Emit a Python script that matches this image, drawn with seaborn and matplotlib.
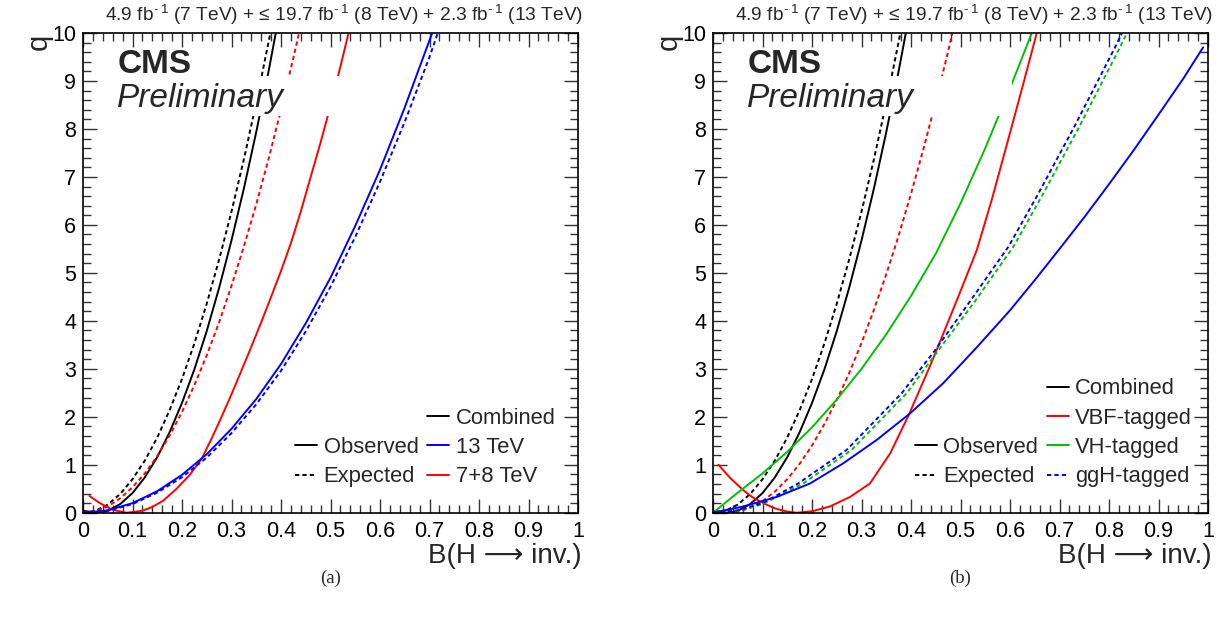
import matplotlib
matplotlib.use("Agg")
import matplotlib.pyplot as plt
import seaborn as sns
from matplotlib.lines import Line2D
from matplotlib.patches import Rectangle
from matplotlib.ticker import MultipleLocator

# ---------------- data ----------------
# Combined (both panels)
comb_obs_B = [0.0, 0.03, 0.05, 0.075, 0.1, 0.125, 0.15, 0.175, 0.2, 0.225, 0.25, 0.275, 0.3, 0.325, 0.35, 0.375, 0.4]
comb_obs_q = [0.04, 0.0, 0.04, 0.18, 0.41, 0.74, 1.16, 1.68, 2.29, 2.99, 3.79, 4.69, 5.68, 6.76, 7.94, 9.21, 10.58]
comb_exp_B = [0.0, 0.025, 0.05, 0.075, 0.1, 0.125, 0.15, 0.175, 0.2, 0.225, 0.25, 0.275, 0.3, 0.325, 0.35, 0.375, 0.39]
comb_exp_q = [0.0, 0.04, 0.17, 0.39, 0.70, 1.09, 1.57, 2.14, 2.79, 3.53, 4.36, 5.28, 6.28, 7.37, 8.55, 9.82, 10.62]

# Panel (a): 13 TeV and 7+8 TeV
tev13_obs_B = [0.0, 0.05, 0.1, 0.15, 0.2, 0.25, 0.3, 0.35, 0.4, 0.45, 0.5, 0.55, 0.6, 0.65, 0.7, 0.72]
tev13_obs_q = [0.0, 0.05, 0.2, 0.45, 0.79, 1.22, 1.75, 2.37, 3.1, 3.95, 4.9, 5.98, 7.15, 8.45, 9.85, 10.4]
tev13_exp_B = [0.0, 0.05, 0.1, 0.15, 0.2, 0.25, 0.3, 0.35, 0.4, 0.45, 0.5, 0.55, 0.6, 0.65, 0.7, 0.73]
tev13_exp_q = [0.0, 0.04, 0.18, 0.42, 0.74, 1.15, 1.66, 2.26, 2.96, 3.78, 4.71, 5.75, 6.9, 8.15, 9.5, 10.4]
tev78_obs_B = [0.013, 0.034, 0.06, 0.088, 0.12, 0.14, 0.162, 0.189, 0.215, 0.24, 0.26, 0.28, 0.30, 0.32, 0.34,
               0.36, 0.38, 0.40, 0.42, 0.44, 0.46, 0.48, 0.50, 0.52, 0.54]
tev78_obs_q = [0.35, 0.20, 0.06, 0.0, 0.04, 0.12, 0.25, 0.50, 0.78, 1.13, 1.55, 2.0, 2.47, 2.96, 3.46,
               3.97, 4.5, 5.04, 5.62, 6.28, 7.0, 7.72, 8.48, 9.3, 10.15]
tev78_exp_B = [0.0, 0.025, 0.05, 0.075, 0.1, 0.125, 0.15, 0.175, 0.2, 0.225, 0.25, 0.275, 0.3, 0.325, 0.35,
               0.375, 0.4, 0.425, 0.44]
tev78_exp_q = [0.0, 0.03, 0.13, 0.30, 0.53, 0.82, 1.18, 1.61, 2.10, 2.66, 3.28, 3.97, 4.73, 5.55, 6.43,
               7.38, 8.40, 9.48, 10.16]

# Panel (b): tagged categories
vbf_obs_B = [0.011, 0.035, 0.061, 0.08, 0.102, 0.12, 0.135, 0.152, 0.169, 0.2, 0.236, 0.277, 0.317, 0.358,
             0.395, 0.438, 0.469, 0.5, 0.533, 0.563, 0.6, 0.627, 0.654, 0.66]
vbf_obs_q = [1.0, 0.72, 0.47, 0.32, 0.2, 0.11, 0.06, 0.02, 0.0, 0.03, 0.13, 0.33, 0.61, 1.24,
             2.03, 3.05, 3.83, 4.62, 5.48, 6.52, 7.92, 8.95, 10.0, 10.25]
vbf_exp_B = [0.0, 0.03, 0.05, 0.075, 0.1, 0.125, 0.15, 0.175, 0.2, 0.225, 0.25, 0.275, 0.3, 0.325, 0.35,
             0.375, 0.4, 0.425, 0.45, 0.475, 0.49]
vbf_exp_q = [0.0, 0.0, 0.02, 0.1, 0.24, 0.44, 0.70, 1.02, 1.40, 1.85, 2.35, 2.91, 3.54, 4.23, 4.97,
             5.78, 6.65, 7.58, 8.57, 9.62, 10.3]
vh_obs_B = [0.0, 0.05, 0.1, 0.15, 0.2, 0.25, 0.3, 0.35, 0.4, 0.45, 0.5, 0.55, 0.6, 0.644, 0.65]
vh_obs_q = [0.0, 0.42, 0.82, 1.27, 1.78, 2.36, 3.0, 3.72, 4.52, 5.4, 6.45, 7.6, 8.85, 10.0, 10.15]
vh_exp_B = [0.0, 0.05, 0.1, 0.182, 0.28, 0.391, 0.455, 0.53, 0.607, 0.667, 0.74, 0.822, 0.85]
vh_exp_q = [0.0, 0.04, 0.18, 0.61, 1.31, 2.49, 3.38, 4.42, 5.55, 6.65, 8.05, 9.7, 10.3]
ggh_obs_B = [0.0, 0.061, 0.129, 0.196, 0.263, 0.331, 0.398, 0.465, 0.533, 0.6, 0.65, 0.7, 0.75, 0.8,
             0.85, 0.9, 0.95, 0.99]
ggh_obs_q = [0.0, 0.13, 0.33, 0.61, 1.03, 1.52, 2.07, 2.70, 3.45, 4.22, 4.85, 5.5, 6.16, 6.85,
             7.56, 8.3, 9.05, 9.7]
ggh_exp_B = [0.0, 0.05, 0.1, 0.172, 0.27, 0.381, 0.448, 0.52, 0.597, 0.657, 0.73, 0.812, 0.84]
ggh_exp_q = [0.0, 0.05, 0.2, 0.61, 1.31, 2.49, 3.38, 4.42, 5.55, 6.65, 8.05, 9.7, 10.3]

x_ticks = [0, 0.1, 0.2, 0.3, 0.4, 0.5, 0.6, 0.7, 0.8, 0.9, 1.0]
x_tick_labels = ["0", "0.1", "0.2", "0.3", "0.4", "0.5", "0.6", "0.7", "0.8", "0.9", "1"]
y_ticks = [0, 1, 2, 3, 4, 5, 6, 7, 8, 9, 10]
y_tick_labels = ["0", "1", "2", "3", "4", "5", "6", "7", "8", "9", "10"]

lumi_text = "4.9 fb$^{\u2010\u20091}$ (7 TeV) + \u2264 19.7 fb$^{\u2010\u20091}$ (8 TeV) + 2.3 fb$^{\u2010\u20091}$ (13 TeV)"
x_title = "B(H \u27f6 inv.)"
y_title = "q"

# ---------------- style ----------------
sns.set_theme(style="ticks")
plt.rcParams["font.family"] = ["Liberation Sans", "DejaVu Sans"]
plt.rcParams["mathtext.default"] = "regular"

RED = "#ff0000"
BLUE = "#0000ff"
GREEN = "#00c000"
BLACK = "#000000"
DASH = (0, (2.2, 1.6))
LW = 1.4

fig = plt.figure(figsize=(12.21, 6.23), dpi=100)
ax_a = fig.add_axes([0.068, 0.177, 0.4054, 0.770])
ax_b = fig.add_axes([0.584, 0.177, 0.4054, 0.770])


def draw(ax, B, q, color, dashed):
    sns.lineplot(x=B, y=q, ax=ax, color=color, linewidth=LW, sort=False, estimator=None,
                 linestyle=DASH if dashed else "-", legend=False)


def style_axes(ax):
    ax.set_xlim(0, 1)
    ax.set_ylim(0, 10)
    ax.set_xticks(x_ticks, labels=x_tick_labels)
    ax.set_yticks(y_ticks, labels=y_tick_labels)
    ax.xaxis.set_minor_locator(MultipleLocator(0.02))
    ax.yaxis.set_minor_locator(MultipleLocator(0.2))
    ax.tick_params(which="both", direction="in", top=True, right=True, colors="#333333",
                   labelcolor="black", width=1.0)
    ax.tick_params(which="major", length=10, labelsize=15.5)
    ax.tick_params(axis="x", which="major", pad=6)
    ax.tick_params(axis="y", which="major", pad=5)
    ax.tick_params(which="minor", length=5.5)
    for s in ax.spines.values():
        s.set_linewidth(1.2)
        s.set_color("black")
    ax.set_xlabel("")
    ax.set_ylabel("")
    # white box behind the "Preliminary" label (as in the reference)
    ax.add_patch(Rectangle((0.05, 8.28), 0.553, 0.82, facecolor="white", edgecolor="none", zorder=5))
    ax.text(0.069, 0.966, "CMS", transform=ax.transAxes, fontsize=24, fontweight="bold",
            ha="left", va="top", zorder=6)
    ax.text(0.069, 0.895, "Preliminary", transform=ax.transAxes, fontsize=24, fontstyle="italic",
            ha="left", va="top", zorder=6)
    ax.text(1.01, 1.012, lumi_text, transform=ax.transAxes, fontsize=13.8, ha="right", va="bottom")
    ax.text(1.008, -0.063, x_title, transform=ax.transAxes, fontsize=20, ha="right", va="top")
    ax.text(-0.09, 0.998, y_title, transform=ax.transAxes, fontsize=21, ha="center", va="top",
            rotation=90)


# ---- panel (a)
draw(ax_a, comb_exp_B, comb_exp_q, BLACK, True)
draw(ax_a, comb_obs_B, comb_obs_q, BLACK, False)
draw(ax_a, tev78_exp_B, tev78_exp_q, RED, True)
draw(ax_a, tev78_obs_B, tev78_obs_q, RED, False)
draw(ax_a, tev13_exp_B, tev13_exp_q, BLUE, True)
draw(ax_a, tev13_obs_B, tev13_obs_q, BLUE, False)
style_axes(ax_a)

# ---- panel (b)
draw(ax_b, comb_exp_B, comb_exp_q, BLACK, True)
draw(ax_b, comb_obs_B, comb_obs_q, BLACK, False)
draw(ax_b, vbf_exp_B, vbf_exp_q, RED, True)
draw(ax_b, vbf_obs_B, vbf_obs_q, RED, False)
draw(ax_b, vh_exp_B, vh_exp_q, GREEN, True)
draw(ax_b, vh_obs_B, vh_obs_q, GREEN, False)
draw(ax_b, ggh_exp_B, ggh_exp_q, BLUE, True)
draw(ax_b, ggh_obs_B, ggh_obs_q, BLUE, False)
style_axes(ax_b)


def h(color, dashed):
    return Line2D([], [], color=color, linewidth=LW, linestyle=DASH if dashed else "-")


blank = Line2D([], [], linestyle="none")
leg_kw = dict(frameon=False, fontsize=15.8, ncol=2, handlelength=1.0, handletextpad=0.3,
              columnspacing=0.4, labelspacing=0.38, borderpad=0.0, borderaxespad=0.0,
              loc="lower right")
ax_a.legend([blank, h(BLACK, False), h(BLACK, True), h(BLACK, False), h(BLUE, False), h(RED, False)],
            ["", "Observed", "Expected", "Combined", "13 TeV", "7+8 TeV"],
            bbox_to_anchor=(0.955, 0.053), **leg_kw)
ax_b.legend([blank, blank, h(BLACK, False), h(BLACK, True),
             h(BLACK, False), h(RED, False), h(GREEN, False), h(BLUE, True)],
            ["", "", "Observed", "Expected", "Combined", "VBF-tagged", "VH-tagged", "ggH-tagged"],
            bbox_to_anchor=(0.968, 0.053), **leg_kw)

fig.text(0.2705, 0.072, "(a)", fontsize=13.5, family=["Liberation Serif", "DejaVu Serif"],
         ha="center", va="center")
fig.text(0.786, 0.072, "(b)", fontsize=13.5, family=["Liberation Serif", "DejaVu Serif"],
         ha="center", va="center")

fig.savefig("out.png", dpi=100, facecolor="white")
